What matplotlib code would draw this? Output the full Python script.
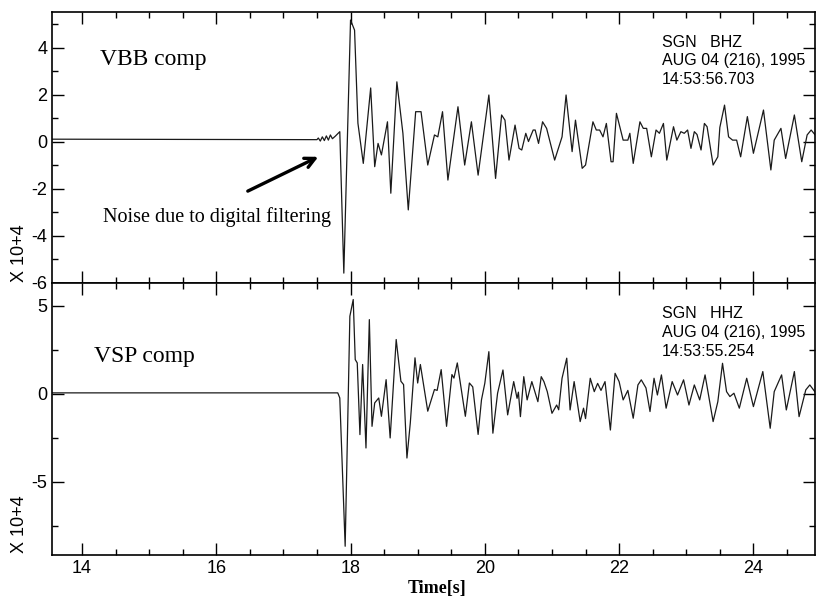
import matplotlib
matplotlib.use("Agg")
import matplotlib.pyplot as plt
from matplotlib.ticker import MultipleLocator

plt.rcParams['font.family'] = ['Liberation Sans', 'DejaVu Sans']
plt.rcParams['axes.unicode_minus'] = False

# VBB trace (time [s], amplitude x 10^4)
vbb_t = [13.55, 17.50, 17.52, 17.55, 17.58, 17.61, 17.64, 17.67, 17.70, 17.73,
         17.77, 17.84, 17.90, 18.00, 18.06, 18.11, 18.19, 18.30, 18.36, 18.41,
         18.46, 18.55, 18.60, 18.69, 18.78, 18.86, 18.97, 19.05, 19.15, 19.25,
         19.30, 19.37, 19.45, 19.60, 19.70, 19.80, 19.90, 20.06, 20.16, 20.25,
         20.30, 20.36, 20.45, 20.51, 20.55, 20.61, 20.65, 20.72, 20.75, 20.80,
         20.86, 20.92, 21.04, 21.15, 21.21, 21.30, 21.35, 21.45, 21.50, 21.61,
         21.66, 21.71, 21.76, 21.81, 21.88, 21.91, 21.96, 22.06, 22.13, 22.16,
         22.21, 22.31, 22.36, 22.41, 22.48, 22.55, 22.60, 22.66, 22.71, 22.81,
         22.86, 22.92, 22.97, 23.02, 23.07, 23.12, 23.16, 23.22, 23.27, 23.31,
         23.40, 23.47, 23.50, 23.57, 23.63, 23.69, 23.75, 23.81, 23.91, 24.00,
         24.15, 24.26, 24.31, 24.41, 24.48, 24.61, 24.72, 24.80, 24.86, 24.92]
vbb_a = [0.10, 0.08, 0.15, 0.02, 0.20, 0.04, 0.24, 0.06, 0.28, 0.12,
         0.22, 0.42, -5.60, 5.17, 4.74, 0.78, -0.93, 2.28, -1.07, -0.08,
         -0.57, 0.84, -2.20, 2.54, 0.35, -2.91, 1.27, 1.27, -1.00, 0.28,
         0.20, 1.27, -1.64, 1.48, -1.00, 0.84, -1.43, 1.98, -1.57, 1.13,
         0.91, -0.79, 0.70, -0.29, -0.36, 0.35, 0.00, 0.49, 0.49, -0.08,
         0.84, 0.56, -0.79, 0.20, 1.98, -0.43, 0.91, -1.14, -1.00, 0.84,
         0.49, 0.49, 0.20, 0.77, -0.86, -0.86, 1.20, 0.06, 0.06, 0.35,
         -0.93, 0.84, 0.56, 0.56, -0.65, 0.49, 0.35, 0.77, -0.79, 0.63,
         0.06, 0.42, 0.35, 0.49, -0.29, 0.42, 0.30, -0.36, 0.77, 0.63,
         -1.00, -0.65, 0.60, 1.55, 0.20, 0.06, 0.06, -0.65, 1.06, -0.50,
         1.34, -1.21, 0.06, 0.56, -0.72, 1.13, -0.86, 0.28, 0.49, 0.28]

# VSP trace
vsp_t = [13.55, 17.81, 17.84, 17.92, 17.97, 17.99, 18.04, 18.07, 18.10, 18.14,
         18.18, 18.23, 18.28, 18.32, 18.36, 18.42, 18.46, 18.53, 18.59, 18.68,
         18.75, 18.79, 18.84, 18.89, 18.96, 19.00, 19.04, 19.15, 19.25, 19.29,
         19.35, 19.43, 19.51, 19.54, 19.59, 19.71, 19.77, 19.82, 19.90, 19.95,
         20.00, 20.06, 20.12, 20.19, 20.27, 20.34, 20.43, 20.48, 20.50, 20.53,
         20.58, 20.63, 20.70, 20.79, 20.84, 20.88, 20.93, 21.00, 21.07, 21.10,
         21.15, 21.22, 21.27, 21.33, 21.42, 21.47, 21.50, 21.57, 21.63, 21.68,
         21.73, 21.79, 21.87, 21.94, 22.00, 22.06, 22.13, 22.21, 22.28, 22.33,
         22.40, 22.46, 22.52, 22.57, 22.63, 22.70, 22.79, 22.87, 22.96, 23.04,
         23.12, 23.20, 23.28, 23.40, 23.47, 23.54, 23.60, 23.65, 23.71, 23.79,
         23.90, 24.00, 24.14, 24.25, 24.31, 24.42, 24.49, 24.61, 24.68, 24.78,
         24.84, 24.92]
vsp_a = [0.06, 0.06, -0.23, -8.65, 0.62, 4.41, 5.36, 1.95, 1.76, -2.31,
         1.67, -3.07, 4.22, -1.84, -0.51, -0.23, -1.27, 0.81, -2.50, 3.09,
         0.72, 0.53, -3.64, -1.65, 2.05, 0.62, 1.67, -0.98, 0.25, 0.20,
         1.38, -1.84, 1.10, 0.90, 1.76, -1.27, 0.62, 0.40, -2.30, -0.34,
         0.61, 2.40, -2.23, 0.04, 1.36, -1.19, 0.70, -0.25, 0.10, -1.29,
         0.98, -0.34, 0.70, -0.44, 0.98, 0.70, 0.13, -1.10, -0.63, -0.90,
         0.89, 2.03, -0.91, 0.70, -1.57, -0.81, -1.40, 0.89, 0.13, 0.60,
         0.20, 0.70, -2.05, 1.17, 0.70, -0.34, 0.20, -1.38, 0.51, 0.80,
         0.34, -1.00, 0.89, -0.06, 1.08, -0.81, 0.70, -0.06, 0.80, -0.63,
         0.51, -0.34, 1.08, -1.57, -0.44, 1.74, 0.13, -0.15, 0.04, -0.81,
         0.89, -0.72, 1.27, -1.95, 0.13, 1.08, -0.91, 1.27, -1.29, 0.23,
         0.51, 0.10]

vbb_head = ["SGN   BHZ", "AUG 04 (216), 1995", "14:53:56.703"]
vsp_head = ["SGN   HHZ", "AUG 04 (216), 1995", "14:53:55.254"]

fig = plt.figure(figsize=(8.16, 6.03), dpi=100)
ax1 = fig.add_axes([0.0634, 0.5307, 0.9356, 0.4493])
ax2 = fig.add_axes([0.0634, 0.0801, 0.9356, 0.4506])

for ax in (ax1, ax2):
    ax.set_xlim(13.55, 24.92)
    ax.xaxis.set_major_locator(MultipleLocator(2))
    ax.xaxis.set_minor_locator(MultipleLocator(0.5))
    ax.tick_params(which='both', direction='in', top=True, right=True,
                   labelsize=13, width=1)
    ax.tick_params(which='major', length=8.5, pad=3)
    ax.tick_params(which='minor', length=4.3)
    for s in ax.spines.values():
        s.set_linewidth(1.2)

ax1.plot(vbb_t, vbb_a, color='#1a1a1a', lw=0.9)
ax1.set_ylim(-6.02, 5.51)
ax1.yaxis.set_major_locator(MultipleLocator(2))
ax1.yaxis.set_minor_locator(MultipleLocator(1))
ax1.tick_params(labelbottom=False)

ax2.plot(vsp_t, vsp_a, color='#1a1a1a', lw=0.9)
ax2.set_ylim(-9.13, 6.3)
ax2.yaxis.set_major_locator(MultipleLocator(5))
ax2.yaxis.set_minor_locator(MultipleLocator(2.5))
ax2.tick_params(axis='x', pad=4)

serif = ['Liberation Serif', 'DejaVu Serif']
ax1.text(14.27, 3.26, "VBB comp", family=serif, fontsize=17, va='baseline')
ax2.text(14.18, 1.82, "VSP comp", family=serif, fontsize=17, va='baseline')
ax1.text(14.32, -3.43, "Noise due to digital filtering", family=serif,
         fontsize=14.5, va='baseline')
ax1.annotate("", xy=(17.52, -0.65), xytext=(16.47, -2.11),
             arrowprops=dict(arrowstyle='->', lw=2.4, color='black',
                             mutation_scale=18, shrinkA=0, shrinkB=0))

for i, (y1, y2) in enumerate(zip([4.03, 3.26, 2.43], [4.32, 3.24, 2.16])):
    ax1.text(22.64, y1, vbb_head[i], fontsize=11.5, va='baseline')
    ax2.text(22.64, y2, vsp_head[i], fontsize=11.5, va='baseline')

fig.text(0.024, 0.532, "X 10+4", rotation=90, fontsize=13,
         ha='center', va='bottom')
fig.text(0.024, 0.083, "X 10+4", rotation=90, fontsize=13,
         ha='center', va='bottom')
fig.text(0.536, 0.016, "Time[s]", family=serif, fontweight='bold',
         fontsize=13, ha='center', va='baseline')

fig.savefig("out.png", dpi=100)
